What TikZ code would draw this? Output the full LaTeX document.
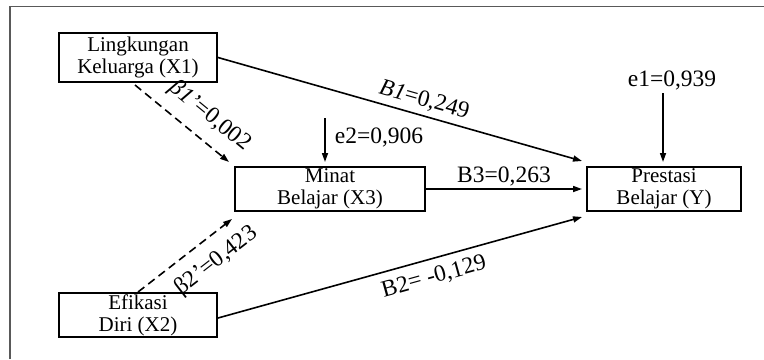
\documentclass[tikz,border=0pt]{standalone}
\usepackage{fontspec}
\setmainfont{Liberation Serif}
\usetikzlibrary{arrows.meta,calc}
\begin{document}
\begin{tikzpicture}[x=0.5pt,y=-0.5pt,
  box/.style={draw,line width=1pt,inner sep=0pt,align=center,font=\fontsize{10.5}{11}\selectfont},
  lbl/.style={font=\fontsize{11.75}{13}\selectfont,inner sep=0pt},
  arr/.style={line width=0.8pt,-{Triangle[length=4.5pt,width=3pt]}},
  dsh/.style={arr,dash pattern=on 4pt off 2.5pt}]
\useasboundingbox (0,0) rectangle (764,359);
\draw[gray!70!black,line width=0.8pt] (10,359) -- (10,6.5) -- (764,6.5);

\node[box,minimum width=79pt,minimum height=24.5pt] (X1) at (138,57.5) {Lingkungan\\Keluarga (X1)};
\node[box,minimum width=95pt,minimum height=22pt] (X3) at (330,189) {Minat\\Belajar (X3)};
\node[box,minimum width=77pt,minimum height=22pt] (Y) at (664,189) {Prestasi\\Belajar (Y)};
\node[box,minimum width=79pt,minimum height=22pt] (X2) at (138,315) {Efikasi\\Diri (X2)};

\coordinate (e2s) at (325,118);
\coordinate (e1s) at (663,93);
\node[lbl] (e2l) at (379,137) {e2=0,906};
\node[lbl] (e1l) at (672,80) {e1=0,939};

\draw[arr] (X1.east) -- ($(Y.north west)+(-4,-5)$)
  node[lbl,pos=0.555,sloped,above=2.5pt] {\textit{B1}=0,249};
\draw[dsh] ($(X1.south)+(-3,2)$) -- ($(X3.north west)+(-5,-4)$)
  node[lbl,pos=0.64,sloped,above=6pt] {\textit{β1’}=0,002};
\draw[arr] (e2s) -- ($(X3.north)+(-5,-4)$);
\draw[arr] (e1s) -- ($(Y.north)+(-1,-4)$);
\draw[arr] (X3.east) -- ($(Y.west)+(-4,0)$)
  node[lbl,midway,above=1pt] {B3=0,263};
\draw[arr] ($(X2.east)+(0,3)$) -- ($(Y.south west)+(-4,5)$)
  node[lbl,pos=0.58,sloped,below=4pt] {B2= -0,129};
\draw[dsh] (X2.north) -- ($(X3.south west)+(-2,7)$)
  node[lbl,pos=0.68,sloped,below=6pt] {β2’=0,423};
\end{tikzpicture}
\end{document}
